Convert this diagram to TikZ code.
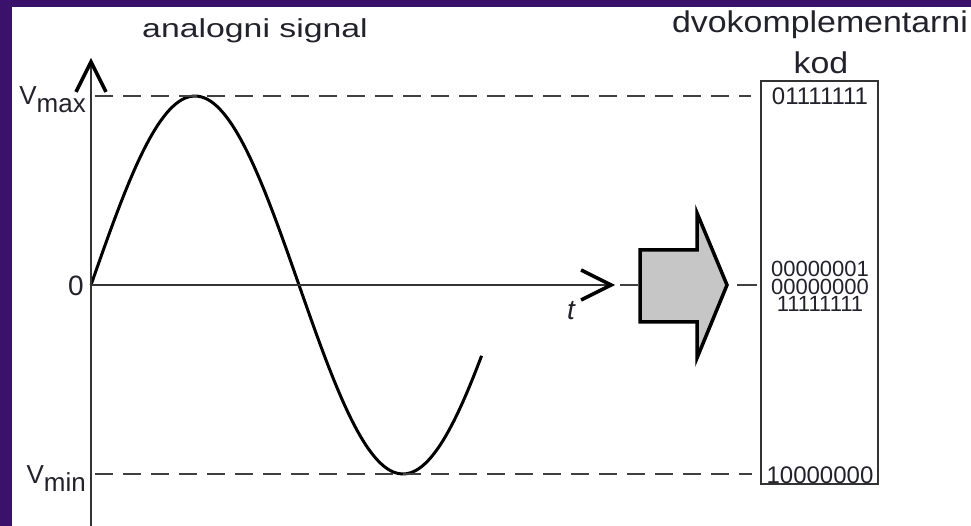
\documentclass[tikz,border=0pt]{standalone}
\usepackage{fontspec}
\setmainfont{Liberation Sans}
\usepackage{graphicx}
\usetikzlibrary{arrows.meta}
\definecolor{slidepurple}{RGB}{58,18,108}
\definecolor{guidegray}{RGB}{64,64,64}
\definecolor{blockgray}{RGB}{198,198,198}
\definecolor{txtdark}{RGB}{34,34,44}
\begin{document}
\begin{tikzpicture}[x=1pt, y=-1pt,
  adcaxis/.style   = {line width=2pt, black!80, -{Straight Barb[length=30pt, width=30pt, line width=3.5pt, color=black]}},
  adcsignal/.style = {line width=3pt, black, line join=round},
  adcguide/.style  = {line width=2pt, guidegray, dash pattern=on 18pt off 10pt},
  adcblock/.style  = {line width=3.5pt, black, fill=blockgray, line join=miter},
  adcbox/.style    = {draw=black!80, line width=2pt, minimum width=117pt, minimum height=403pt, inner sep=0pt},
  adctitle/.style  = {inner sep=0pt, anchor=base, text=txtdark},
  adclbl/.style    = {inner sep=0pt, text=txtdark, font=\fontsize{26}{30}\selectfont},
  adccode/.style   = {inner sep=0pt, anchor=base, text=txtdark, font=\fontsize{24}{24}\selectfont},
  adcstack/.style  = {adccode, font=\fontsize{22}{22}\selectfont, text height=15.5pt, text depth=0pt}
]
  % pozadina
  \fill[slidepurple] (0,0) rectangle (971,526);
  \fill[white] (12,7) rectangle (971,526);
  \useasboundingbox (0,0) rectangle (971,526);

  % naslovi
  \node[adctitle, font=\fontsize{26}{30}\selectfont] (naslov) at (255,38) {\scalebox{1.3}[1]{analogni signal}};
  \node[adctitle, font=\fontsize{30}{34}\selectfont] (dvokod) at (820,33) {\scalebox{1.13}[1]{dvokomplementarni}};
  \node[adctitle, font=\fontsize{30}{34}\selectfont] (kodtxt) at (821,74) {\scalebox{1.13}[1]{kod}};

  % osi
  \coordinate (O) at (91,285);
  \coordinate (ybot) at (91,526);
  \coordinate (ytop) at (91,58);
  \coordinate (xtip) at (615,285);
  \coordinate (gmax) at (95,96);
  \coordinate (gmin) at (95,474);

  % signal
  \draw[adcsignal] plot[domain=0:338, samples=100, smooth] ({91+\x/360*416}, {285-189*sin(\x)});

  \draw[adcaxis] (ybot) -- (ytop);
  \draw[adcaxis] (O) -- (xtip);

  % oznake
  \node[adclbl, anchor=base east] (vmax) at (86,105) {V\raisebox{-8pt}{max}};
  \node[adclbl, anchor=base east] (vmin) at (86,483) {V\raisebox{-8pt}{min}};
  \node[adclbl, font=\fontsize{28}{30}\selectfont, anchor=east] (nula) at (84,286) {0};
  \node[adclbl, font=\fontsize{28}{30}\selectfont\itshape] (tlbl) at (571,311) {t};

  % kod
  \node[adcbox] (kod) at (819.5,282.5) {};
  \node[adccode] (c1) at (820,105) {01111111};
  \node[adcstack] (c2) at (820,277) {00000001};
  \node[adcstack] (c3) at (820,294.5) {00000000};
  \node[adcstack] (c4) at (820,312) {11111111};
  \node[adccode] (c5) at (820,483) {10000000};

  % isprekidane linije
  \draw[adcguide, shorten >=9pt] (gmax) -- (gmax -| kod.west);
  \draw[adcguide, shorten >=8pt] (gmin) -- (gmin -| kod.west);
  \draw[adcguide, dash pattern=on 18pt off 99pt on 21pt, shorten <=5pt, shorten >=3pt] (xtip) -- (O -| kod.west);

  % blok strelica
  \draw[adcblock] (640,250) -- (697,250) -- (697,213) -- (727,285) -- (697,358) -- (697,322) -- (640,322) -- cycle;
\end{tikzpicture}
\end{document}
